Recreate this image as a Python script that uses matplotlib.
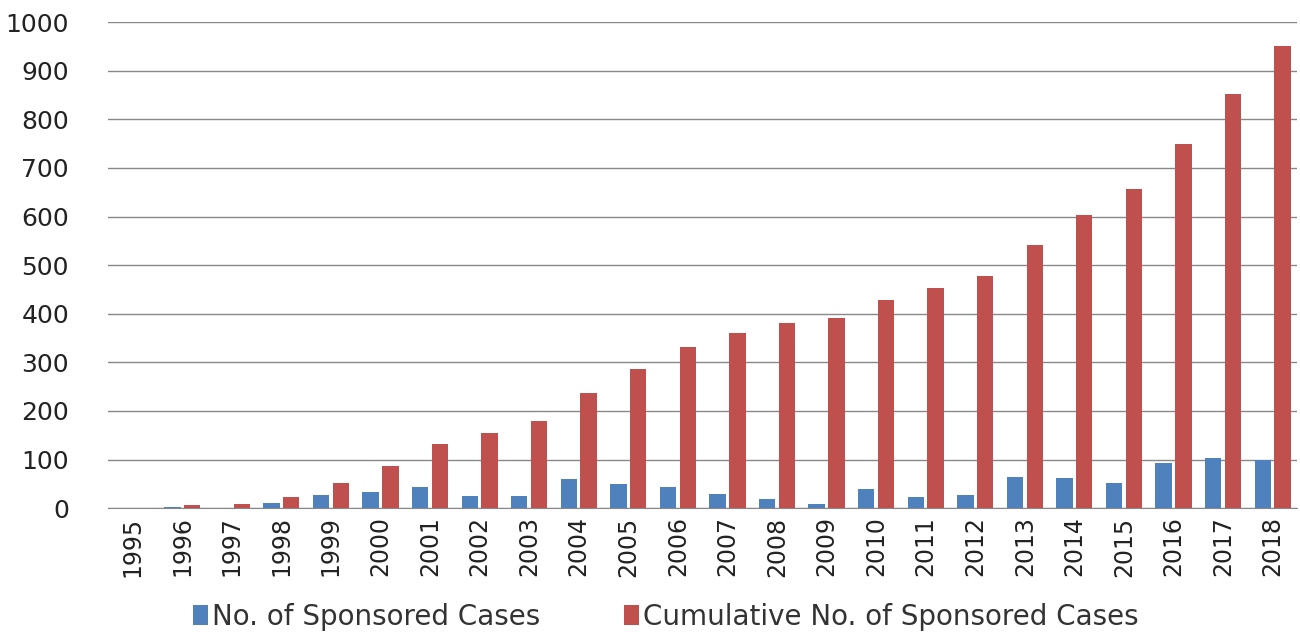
import numpy as np
import matplotlib
matplotlib.use("Agg")
from matplotlib import pyplot as plt

years = [str(y) for y in range(1995, 2019)]
sponsored = [0, 3, 1, 11, 28, 34, 44, 24, 24, 59, 49, 44, 29, 19, 8, 39, 22, 26, 64, 61, 51, 92, 103, 100]
cumulative = [0, 6, 8, 22, 51, 86, 132, 154, 179, 237, 287, 331, 361, 381, 391, 429, 453, 477, 541, 603, 656, 749, 852, 951]

blue = "#4F81BD"
red = "#C0504D"

fig = plt.figure(figsize=(13, 6.32), dpi=100)
ax = fig.add_axes([0.083, 0.196, 0.915, 0.769])

x = np.arange(len(years))
w = 0.33
ax.bar(x - 0.2, sponsored, w, color=blue, label="No. of Sponsored Cases", zorder=3)
ax.bar(x + 0.2, cumulative, w, color=red, label="Cumulative No. of Sponsored Cases", zorder=3)

ax.set_xlim(-0.5, len(years) - 0.5)
ax.set_ylim(0, 1000)
ax.set_yticks(range(0, 1001, 100))
ax.yaxis.grid(True, color="#888888", linewidth=1, zorder=0)
ax.set_xticks(x)
ax.set_xticklabels(years, rotation=90, fontsize=17, color="#222222")
ax.tick_params(axis="y", labelsize=18, length=0, pad=28, labelcolor="#222222")
ax.tick_params(axis="x", length=0, pad=6)
for s in ["top", "right", "left"]:
    ax.spines[s].set_visible(False)
ax.spines["bottom"].set_color("#888888")

fig.legend(loc="center", bbox_to_anchor=(0.512, 0.024), ncol=2, frameon=False,
           fontsize=20, handlelength=0.55, handleheight=0.75, handletextpad=0.15,
           columnspacing=3.0, labelcolor="#333333")

fig.savefig("out.png", dpi=100)
